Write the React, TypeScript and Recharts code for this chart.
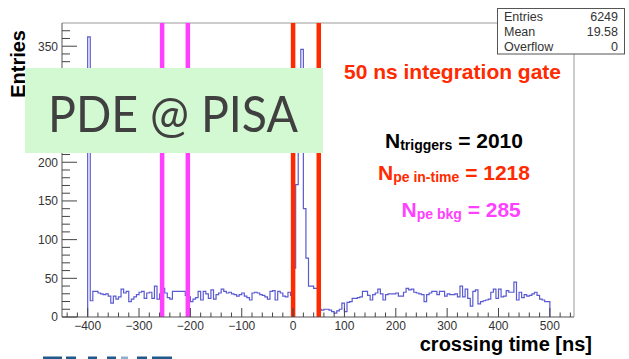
import React from 'react';
import { ComposedChart, Line, XAxis, YAxis, ReferenceLine } from 'recharts';

// Histogram: 5 ns bins from -400 ns to 500 ns
const BIN_LOW = -400;
const BIN_WIDTH = 5;
const counts: number[] = [
  362, 21, 33, 33, 31, 30, 29, 30, 27, 18, 27, 23, 26, 36, 31, 33, 20, 23, 26, 29,
  32, 33, 24, 31, 32, 24, 40, 23, 30, 37, 31, 25, 23, 33, 33, 33,
  33, 33, 28, 26, 20, 23, 25, 33, 22, 33, 30, 24, 35, 23, 29, 31, 36, 33, 31, 32,
  30, 29, 27, 29, 31, 27, 25, 22, 31, 32, 31, 29, 28, 26, 23, 33, 34, 22, 33, 31,
  27, 26, 32, 28,
  63, 171, 290, 346, 140, 76, 40, 40, 37, 37,
  10, 9, 10, 10, 9, 7, 5, 8, 10, 18, 7, 19, 20, 24, 24, 25, 26, 33, 33, 28,
  22, 29, 31, 36, 30, 22, 29, 30, 30, 30, 31, 27, 27, 32, 37, 35, 36, 32, 31, 30,
  29, 20, 29, 31, 33,
  33, 29, 33, 33, 27, 30, 29, 29, 30, 26, 40, 26, 36, 24, 14, 33, 35, 17, 20, 21,
  22, 23, 32, 36, 24, 36, 26, 27, 34, 32, 32, 45, 22, 32, 25, 29, 27, 28, 30, 32,
  28, 23, 22, 20, 20,
];

const xMajorTicks = [-400, -300, -200, -100, 0, 100, 200, 300, 400, 500];
const yMajorTicks = [0, 50, 100, 150, 200, 250, 300, 350];
const X_MINOR_STEP = 20;
const Y_MINOR_STEP = 10;
const xDomain: [number, number] = [-450, 547];
const yDomain: [number, number] = [0, 380];

const bkgGate = [-255, -205];
const signalGate = [0, 50];

const statsRows: [string, string][] = [
  ['Entries', '6249'],
  ['Mean', '19.58'],
  ['Overflow', '0'],
];

const FONT = 'Liberation Sans, Arial, Helvetica, sans-serif';
const RED = '#ff2a00';
const MAGENTA = '#ff40ff';

const histEnd = BIN_LOW + counts.length * BIN_WIDTH;
const histData = [
  { x: BIN_LOW, y: 0 },
  ...counts.map((c, i) => ({ x: BIN_LOW + i * BIN_WIDTH, y: c })),
  { x: histEnd, y: counts[counts.length - 1] },
  { x: histEnd, y: 0 },
];

const xTicks: number[] = [];
for (let v = xMajorTicks[0] - 2 * X_MINOR_STEP; v <= xMajorTicks[xMajorTicks.length - 1] + 2 * X_MINOR_STEP; v += X_MINOR_STEP) xTicks.push(v);
const yTicks: number[] = [];
for (let v = yMajorTicks[0]; v <= yMajorTicks[yMajorTicks.length - 1] + 2 * Y_MINOR_STEP; v += Y_MINOR_STEP) yTicks.push(v);

const fmtMinus = (v: number) => (v < 0 ? '\u2212' + Math.abs(v) : String(v));

const YTick = (props: any) => {
  const { x, y, payload } = props;
  const v = payload.value as number;
  const major = yMajorTicks.includes(v);
  return (
    <g>
      <line x1={x} y1={y} x2={x + (major ? 15 : 8)} y2={y} stroke="#444" strokeWidth={1} />
      {major && (
        <text x={x - 4} y={y + 4.3} textAnchor="end" fontSize={12} fill="#333" fontFamily={FONT}>
          {v}
        </text>
      )}
    </g>
  );
};

const XTick = (props: any) => {
  const { x, y, payload } = props;
  const v = payload.value as number;
  const major = xMajorTicks.includes(v);
  return (
    <g>
      <line x1={x} y1={y} x2={x} y2={y - (major ? 9 : 4.5)} stroke="#444" strokeWidth={1} />
      {major && (
        <text x={x} y={y + 13} textAnchor="middle" fontSize={12} fill="#333" fontFamily={FONT}>
          {fmtMinus(v)}
        </text>
      )}
    </g>
  );
};

export default function App() {
  return (
    <div style={{ position: 'absolute', left: 0, top: 0, width: 629, height: 359, background: '#fff', overflow: 'hidden' }}>
      <ComposedChart
        width={629}
        height={359}
        data={histData}
        margin={{ top: 23, right: 55, bottom: 0, left: 0 }}
      >
        <XAxis
          dataKey="x"
          type="number"
          domain={xDomain}
          ticks={xTicks}
          interval={0}
          tick={<XTick />}
          tickLine={false}
          tickSize={0}
          tickMargin={0}
          height={42}
          axisLine={{ stroke: '#555' }}
          allowDataOverflow
        />
        <YAxis
          type="number"
          domain={yDomain}
          ticks={yTicks}
          interval={0}
          tick={<YTick />}
          tickLine={false}
          tickSize={0}
          tickMargin={0}
          width={62}
          axisLine={{ stroke: '#555' }}
          allowDataOverflow
        />
        <ReferenceLine y={yDomain[1]} stroke="#999" strokeWidth={1} />
        <ReferenceLine x={xDomain[1]} stroke="#999" strokeWidth={1} />
        <Line
          dataKey="y"
          type="stepAfter"
          stroke="#5a5ad2"
          strokeWidth={1.2}
          dot={false}
          activeDot={false}
          isAnimationActive={false}
        />
        {bkgGate.map((g) => (
          <ReferenceLine key={'b' + g} x={g} stroke={MAGENTA} strokeWidth={4.5} />
        ))}
        {signalGate.map((g) => (
          <ReferenceLine key={'s' + g} x={g} stroke={RED} strokeWidth={4.5} />
        ))}
      </ComposedChart>

      <svg
        width={629}
        height={359}
        style={{ position: 'absolute', left: 0, top: 0, pointerEvents: 'none' }}
      >
        {/* stats box */}
        <rect x={497.5} y={8.5} width={127} height={45.5} fill="#fff" stroke="#555" strokeWidth={1} />
        {statsRows.map(([k, v], i) => (
          <g key={k}>
            <text x={504} y={21 + i * 15} fontSize={12.5} fill="#333" fontFamily={FONT}>{k}</text>
            <text x={618} y={21 + i * 15} fontSize={12.5} fill="#333" fontFamily={FONT} textAnchor="end">{v}</text>
          </g>
        ))}

        {/* annotations */}
        <text x={344} y={79} fontSize={21} fontWeight="bold" fill={RED} fontFamily={FONT}>
          50 ns integration gate
        </text>
        <text x={385} y={148} fontSize={21} fontWeight="bold" fill="#000" fontFamily={FONT}>
          N<tspan fontSize={14} dy={2}>triggers</tspan><tspan dy={-2}> = 2010</tspan>
        </text>
        <text x={378} y={180} fontSize={21} fontWeight="bold" fill={RED} fontFamily={FONT}>
          N<tspan fontSize={14} dy={2}>pe in-time</tspan><tspan dy={-2}> = 1218</tspan>
        </text>
        <text x={401.5} y={216.5} fontSize={21} fontWeight="bold" fill={MAGENTA} fontFamily={FONT}>
          N<tspan fontSize={14} dy={2}>pe bkg</tspan><tspan dy={-2}> = 285</tspan>
        </text>

        {/* axis titles */}
        <text x={25} y={30} fontSize={20} fontWeight="bold" fill="#000" fontFamily={FONT} textAnchor="end" transform="rotate(-90, 25, 30)">
          Entries
        </text>
        <text x={592} y={351} fontSize={20} fontWeight="bold" fill="#000" fontFamily={FONT} textAnchor="end">
          crossing time [ns]
        </text>

        {/* green label box */}
        <rect x={25} y={68} width={298} height={85} fill="#d3f9d3" />
        <text x={48} y={131.5} fontSize={50} fill="#404040" fontFamily="Lato, 'Open Sans', sans-serif" textLength={250} lengthAdjust="spacingAndGlyphs">
          PDE @ PISA
        </text>

        {/* partial logo at bottom-left edge */}
        <g fill="#1f5a8c">
          <rect x={43} y={356.5} width={19} height={3} />
          <rect x={66} y={356.5} width={10} height={3} />
          <rect x={88} y={356.5} width={9} height={3} />
          <rect x={107} y={356.5} width={9} height={3} />
          <rect x={121} y={356.5} width={7} height={3} fill="#8fb0cc" />
          <rect x={137} y={356.5} width={10} height={3} />
          <rect x={152} y={356.5} width={20} height={3} />
        </g>
      </svg>
    </div>
  );
}
